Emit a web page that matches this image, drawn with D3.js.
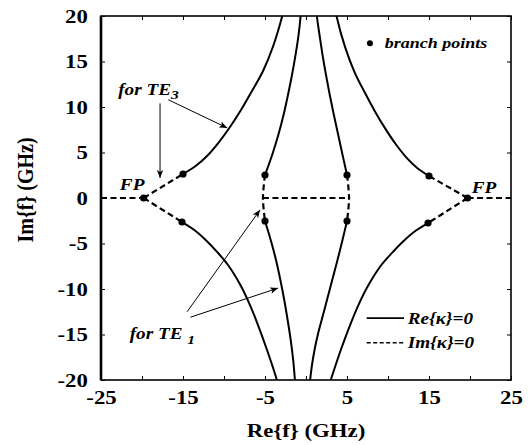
<!DOCTYPE html>
<html>
<head>
<meta charset="utf-8">
<script src="https://cdn.jsdelivr.net/npm/d3@7"></script>
<style>
  body { margin: 0; background: #fff; }
</style>
</head>
<body>
<div id="chart"></div>
<script>
// Re{kappa}=0 branches (solid), points are [Re f, Im f] in GHz
const outerLeftUpper = [[-15.0, 2.64], [-13.54, 3.46], [-12.07, 4.62], [-10.61, 6.15], [-9.27, 7.80], [-7.93, 9.67], [-6.59, 11.76], [-5.24, 13.96], [-4.02, 16.65], [-2.93, 19.89], [-2.85, 20.2]];
const innerLeftUpper = [[-5.0, 2.53], [-4.13, 4.73], [-3.38, 6.92], [-2.74, 9.12], [-2.20, 11.32], [-1.71, 13.52], [-1.28, 15.71], [-0.91, 17.91], [-0.67, 19.89], [-0.65, 20.2]];
const innerRightUpper = [[5.0, 2.53], [4.46, 4.73], [3.93, 6.92], [3.40, 9.12], [2.90, 11.32], [2.44, 13.52], [2.02, 15.71], [1.65, 17.91], [1.34, 19.89], [1.32, 20.2]];
const outerRightUpper = [[15.0, 2.42], [13.63, 3.24], [12.28, 4.41], [10.91, 5.96], [9.67, 7.62], [8.43, 9.49], [7.17, 11.59], [5.93, 13.81], [4.79, 16.52], [3.78, 19.78], [3.7, 20.2]];
const outerLeftLower = [[-15.12, -2.64], [-13.66, -3.49], [-12.20, -4.64], [-10.85, -5.92], [-9.51, -7.36], [-8.05, -9.48], [-6.95, -11.52], [-5.98, -13.66], [-4.76, -16.68], [-3.54, -20.05], [-3.5, -20.2]];
const innerLeftLower = [[-5.0, -2.53], [-4.27, -4.73], [-3.63, -6.92], [-3.10, -9.12], [-2.63, -11.32], [-2.22, -13.52], [-1.85, -15.71], [-1.55, -17.91], [-1.34, -20.11], [-1.33, -20.2]];
const innerRightLower = [[5.0, -2.53], [4.45, -4.62], [3.84, -6.81], [3.23, -8.90], [2.62, -10.99], [2.01, -13.08], [1.46, -14.95], [1.04, -16.70], [0.73, -18.35], [0.49, -20.11], [0.48, -20.2]];
const outerRightLower = [[14.88, -2.75], [13.37, -3.60], [11.87, -4.75], [10.49, -6.03], [9.10, -7.47], [7.60, -9.59], [6.46, -11.63], [5.46, -13.77], [4.21, -16.79], [2.95, -20.16], [2.93, -20.2]];

// Im{kappa}=0 branches (dashed)
const leftTail = [[-25, 0], [-19.8, 0]];
const leftFpUpper = [[-19.8, 0], [-15.0, 2.64]];
const leftFpLower = [[-19.8, 0], [-15.12, -2.64]];
const innerLeftLink = [[-5.0, 2.53], [-5.25, 0], [-5.0, -2.53]];
const innerRightLink = [[5.0, 2.53], [5.25, 0], [5.0, -2.53]];
const centreLink = [[-5.25, 0], [5.25, 0]];
const rightFpUpper = [[19.7, 0], [15.0, 2.42]];
const rightFpLower = [[19.7, 0], [14.88, -2.75]];
const rightTail = [[19.7, 0], [25, 0]];

const branchPoints = [[-19.8, 0], [-15.0, 2.64], [-15.12, -2.64], [-5.0, 2.53], [-5.0, -2.53], [5.0, 2.53], [5.0, -2.53], [15.0, 2.42], [14.88, -2.75], [19.7, 0]];

const xTicks = [-25, -20, -15, -10, -5, 0, 5, 10, 15, 20, 25];
const xLabels = [-25, -15, -5, 5, 15, 25];
const yTicks = [-20, -15, -10, -5, 0, 5, 10, 15, 20];

const solidCurves = [outerLeftUpper, innerLeftUpper, innerRightUpper, outerRightUpper, outerLeftLower, innerLeftLower, innerRightLower, outerRightLower];
const dashedCurves = [leftTail, leftFpUpper, leftFpLower, innerLeftLink, innerRightLink, centreLink, rightFpUpper, rightFpLower, rightTail];

const W = 530, H = 445;
const serif = '"Liberation Serif", "Times New Roman", serif';
const sx = 1.2; // the scanned lettering is wider than plain Times
const x = d3.scaleLinear().domain([-25, 25]).range([101, 511]);
const y = d3.scaleLinear().domain([-20, 20]).range([380, 16]);

const svg = d3.select('#chart').append('svg').attr('width', W).attr('height', H);

const defs = svg.append('defs');
defs.append('clipPath').attr('id', 'plot')
  .append('rect').attr('x', 101).attr('y', 16).attr('width', 410).attr('height', 364);
defs.append('marker')
  .attr('id', 'arrow').attr('viewBox', '0 0 10 10')
  .attr('refX', 10).attr('refY', 5)
  .attr('markerWidth', 8).attr('markerHeight', 8)
  .attr('markerUnits', 'userSpaceOnUse')
  .attr('orient', 'auto')
  .append('path').attr('d', 'M0,1L10,5L0,9L2.5,5Z').attr('fill', '#000');

// axes, ticks pointing inward
const fmt = (d) => xLabels.includes(d) ? String(d) : '';
const styleTicks = (g) => {
  g.attr('font-family', null).attr('font-size', null);
  g.select('.domain').remove();
  g.selectAll('.tick line').attr('stroke', '#000').attr('stroke-width', 1);
  g.selectAll('.tick text')
    .attr('fill', '#000')
    .style('font-family', serif)
    .style('font-size', '19px')
    .style('font-weight', 'bold')
    .attr('transform', `scale(${sx},1)`);
};

svg.append('g').attr('transform', `translate(0,${y(-20)})`)
  .call(d3.axisBottom(x).tickValues(xTicks).tickSizeInner(-4).tickSizeOuter(0).tickPadding(11).tickFormat(fmt))
  .call(styleTicks);
svg.append('g').attr('transform', `translate(0,${y(20)})`)
  .call(d3.axisTop(x).tickValues(xTicks).tickSizeInner(-4).tickSizeOuter(0).tickFormat(''))
  .call(styleTicks);
svg.append('g').attr('transform', `translate(${x(-25)},0)`)
  .call(d3.axisLeft(y).tickValues(yTicks).tickSizeInner(-4).tickSizeOuter(0).tickPadding(11).tickFormat((d) => String(d)))
  .call(styleTicks);
svg.append('g').attr('transform', `translate(${x(25)},0)`)
  .call(d3.axisRight(y).tickValues(yTicks).tickSizeInner(-4).tickSizeOuter(0).tickFormat(''))
  .call(styleTicks);

svg.append('rect')
  .attr('x', x(-25)).attr('y', y(20))
  .attr('width', x(25) - x(-25)).attr('height', y(-20) - y(20))
  .attr('fill', 'none').attr('stroke', '#000').attr('stroke-width', 1.6);
svg.append('line')
  .attr('x1', x(-25)).attr('x2', x(-25)).attr('y1', y(20)).attr('y2', y(-20))
  .attr('stroke', '#000').attr('stroke-width', 2.6);

// axis titles
svg.append('text')
  .attr('transform', `translate(${(x(-25) + x(25)) / 2},437) scale(${sx},1)`)
  .attr('text-anchor', 'middle')
  .style('font-family', serif)
  .style('font-size', '19px').style('font-weight', 'bold')
  .text('Re{f} (GHz)');
svg.append('text')
  .attr('transform', `translate(33,190) rotate(-90) scale(1,${sx})`)
  .attr('text-anchor', 'middle')
  .style('font-family', serif)
  .style('font-size', '20px').style('font-weight', 'bold')
  .text('Im{f} (GHz)');

// curves
const line = d3.line().x((d) => x(d[0])).y((d) => y(d[1])).curve(d3.curveCatmullRom.alpha(0.5));
const plot = svg.append('g').attr('clip-path', 'url(#plot)');

plot.selectAll('path.solid')
  .data(solidCurves).enter()
  .append('path').attr('class', 'solid')
  .attr('d', line)
  .attr('fill', 'none').attr('stroke', '#000').attr('stroke-width', 2);

plot.selectAll('path.dashed')
  .data(dashedCurves).enter()
  .append('path').attr('class', 'dashed')
  .attr('d', line)
  .attr('fill', 'none').attr('stroke', '#000').attr('stroke-width', 2.2)
  .attr('stroke-dasharray', '6,3.5');

plot.selectAll('circle')
  .data(branchPoints).enter()
  .append('circle')
  .attr('cx', (d) => x(d[0])).attr('cy', (d) => y(d[1]))
  .attr('r', 3.6).attr('fill', '#000');

// annotations
function label(px, py, str, size, sub, subDy) {
  const t = svg.append('text')
    .attr('transform', `translate(${px},${py}) scale(${sx},1)`)
    .style('font-family', serif)
    .style('font-size', size + 'px')
    .style('font-weight', 'bold')
    .style('font-style', 'italic')
    .text(str);
  if (sub) {
    t.append('tspan').attr('dy', subDy).style('font-size', (size - 3) + 'px').text(sub);
  }
  return t;
}

function arrow(from, to) {
  svg.append('line')
    .attr('x1', x(from[0])).attr('y1', y(from[1]))
    .attr('x2', x(to[0])).attr('y2', y(to[1]))
    .attr('stroke', '#000').attr('stroke-width', 1)
    .attr('marker-end', 'url(#arrow)');
}

label(x(-22.9), y(11.3), 'for TE', 16, '3', 4);
label(x(-21.5), y(-15.5), 'for TE ', 16, '1', 5);
label(x(-22.7), y(0.9), 'FP', 16);
label(x(20.2), y(0.5), 'FP', 16);

arrow([-17.8, 10.4], [-17.8, 2.2]);
arrow([-16.8, 10.8], [-9.6, 7.7]);
arrow([-14.5, -12.5], [-5.6, -1.3]);
arrow([-14.1, -13.1], [-3.4, -9.9]);

// legend
svg.append('circle').attr('cx', x(7.8)).attr('cy', y(17.0)).attr('r', 3).attr('fill', '#000');
label(x(9.6), y(16.5), 'branch points', 15);

svg.append('line')
  .attr('x1', x(7.4)).attr('x2', x(11.95)).attr('y1', y(-13.2)).attr('y2', y(-13.2))
  .attr('stroke', '#000').attr('stroke-width', 1.6);
label(x(12.4), y(-13.8), 'Re{κ}=0', 16);

svg.append('line')
  .attr('x1', x(7.4)).attr('x2', x(11.95)).attr('y1', y(-15.9)).attr('y2', y(-15.9))
  .attr('stroke', '#000').attr('stroke-width', 1.6)
  .attr('stroke-dasharray', '4,2.5');
label(x(12.4), y(-16.5), 'Im{κ}=0', 16);
</script>
</body>
</html>
